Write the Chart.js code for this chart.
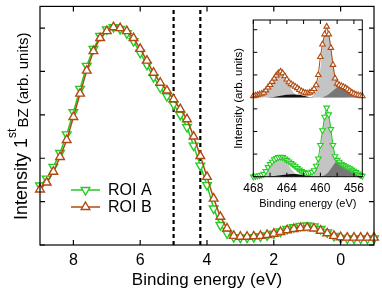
<!DOCTYPE html>
<html>
<head>
<meta charset="utf-8">
<script src="https://cdn.jsdelivr.net/npm/chart.js@4.4.1/dist/chart.umd.min.js"></script>
<style>
    html, body { margin: 0; padding: 0; background: #fff; }
    #wrap { position: relative; width: 382px; height: 296px; }
    #main { position: absolute; left: 0; top: 0; }
    #inset { position: absolute; left: 225px; top: 10px; }
</style>
</head>
<body>
<div id="wrap">
    <canvas id="main" width="382" height="296"></canvas>
    <canvas id="inset" width="147" height="205"></canvas>
</div>
<script>
(function () {
    "use strict";

    // Main spectrum (binding energy, eV)
    const energy = [9.0, 8.8, 8.6, 8.4, 8.2, 8.0, 7.8, 7.6, 7.4, 7.2, 7.0, 6.8, 6.6, 6.4, 6.2, 6.0, 5.8, 5.6, 5.4, 5.2,
        5.0, 4.8, 4.6, 4.4, 4.2, 4.0, 3.8, 3.6, 3.4, 3.2, 3.0, 2.8, 2.6, 2.4, 2.2, 2.0, 1.8, 1.6, 1.4, 1.2,
        1.0, 0.8, 0.6, 0.4, 0.2, 0.0, -0.2, -0.4, -0.6, -0.8, -1.0];
    const roiA = [1.37, 1.53, 1.80, 2.12, 2.55, 3.06, 3.60, 4.13, 4.52, 4.82, 4.97, 5.02, 4.98, 4.88, 4.70, 4.43, 4.15, 3.87, 3.63, 3.43,
        3.24, 3.00, 2.72, 2.29, 1.83, 1.38, 0.84, 0.46, 0.27, 0.18, 0.17, 0.17, 0.18, 0.20, 0.22, 0.26, 0.31, 0.37, 0.41, 0.44,
        0.45, 0.43, 0.37, 0.29, 0.21, 0.16, 0.15, 0.15, 0.15, 0.15, 0.15];
    const roiB = [1.28, 1.44, 1.69, 2.03, 2.42, 2.95, 3.49, 4.02, 4.47, 4.77, 4.93, 5.02, 5.00, 4.93, 4.77, 4.52, 4.25, 3.97, 3.74, 3.56,
        3.36, 3.13, 2.90, 2.50, 2.05, 1.57, 1.07, 0.65, 0.38, 0.21, 0.19, 0.19, 0.20, 0.21, 0.23, 0.26, 0.30, 0.34, 0.37, 0.39,
        0.40, 0.38, 0.33, 0.27, 0.21, 0.18, 0.17, 0.17, 0.17, 0.17, 0.17];
    const markerLines = [5.0, 4.2];
    const xTicks = [8, 6, 4, 2, 0];
    const yTicks = [0, 1, 2, 3, 4, 5];

    // Inset: Ti 2p region
    const insetEnergy = [468, 467.75, 467.5, 467.25, 467, 466.75, 466.5, 466.25, 466, 465.75, 465.5, 465.25, 465, 464.75,
        464.5, 464.25, 464, 463.75, 463.5, 463.25, 463, 462.75, 462.5, 462.25, 462, 461.75, 461.5, 461.25, 461, 460.75,
        460.5, 460.25, 460, 459.75, 459.5, 459.25, 459, 458.75, 458.5, 458.25, 458, 457.75, 457.5, 457.25, 457, 456.75,
        456.5, 456.25, 456, 455.75, 455.5, 455.25, 455];
    const insetA = [0.00, 0.02, 0.04, 0.06, 0.08, 0.12, 0.24, 0.42, 0.56, 0.66, 0.76, 0.82, 0.86, 0.88,
        0.86, 0.80, 0.74, 0.67, 0.60, 0.53, 0.46, 0.38, 0.31, 0.25, 0.20, 0.17, 0.16, 0.17, 0.21, 0.28,
        0.48, 0.80, 1.40, 2.05, 2.65, 3.05, 2.75, 2.10, 1.40, 0.90, 0.74, 0.66, 0.57, 0.51, 0.46, 0.41,
        0.37, 0.31, 0.26, 0.20, 0.13, 0.07, 0.03];
    const insetB = [0.07, 0.09, 0.11, 0.14, 0.17, 0.22, 0.32, 0.45, 0.56, 0.70, 0.84, 0.98, 1.08, 1.15,
        1.08, 0.95, 0.80, 0.68, 0.60, 0.54, 0.48, 0.42, 0.34, 0.28, 0.23, 0.20, 0.19, 0.22, 0.28, 0.38,
        0.55, 1.00, 1.80, 2.35, 2.80, 3.14, 2.80, 2.20, 1.45, 0.85, 0.62, 0.55, 0.51, 0.47, 0.42, 0.36,
        0.29, 0.22, 0.17, 0.13, 0.10, 0.08, 0.07];

    // Fit components (coarser grid)
    const compEnergy = [468, 467.5, 467, 466.5, 466, 465.5, 465, 464.5, 464, 463.5, 463, 462.5, 462, 461.5,
        461, 460.5, 460, 459.5, 459, 458.5, 458, 457.5, 457, 456.5, 456, 455.5, 455];
    const lightA = [0, 0, 0.03, 0.20, 0.50, 0.75, 0.85, 0.80, 0.60, 0.35, 0.15, 0.05, 0, 0,
        0.05, 0.30, 1.20, 2.55, 2.65, 1.45, 0.50, 0.12, 0.02, 0, 0, 0, 0];
    const darkA = [0, 0, 0, 0, 0, 0, 0, 0, 0, 0, 0, 0, 0, 0,
        0, 0, 0, 0.06, 0.22, 0.48, 0.68, 0.64, 0.48, 0.30, 0.16, 0.07, 0.02];
    const blackA = [0, 0, 0, 0, 0.01, 0.03, 0.05, 0.08, 0.10, 0.12, 0.12, 0.10, 0.07, 0.03,
        0.01, 0, 0, 0, 0, 0, 0, 0, 0, 0, 0, 0, 0];
    const lightB = [0, 0, 0.05, 0.25, 0.60, 0.92, 1.08, 1.00, 0.70, 0.38, 0.15, 0.04, 0, 0,
        0.05, 0.35, 1.30, 2.75, 2.85, 1.60, 0.50, 0.12, 0.02, 0, 0, 0, 0];
    const darkB = [0, 0, 0, 0, 0, 0, 0, 0, 0, 0, 0, 0, 0, 0,
        0, 0, 0, 0.05, 0.15, 0.30, 0.45, 0.50, 0.42, 0.28, 0.15, 0.07, 0.03];
    const blackB = [0, 0, 0, 0, 0.01, 0.03, 0.06, 0.09, 0.12, 0.14, 0.14, 0.12, 0.08, 0.04,
        0.01, 0, 0, 0, 0, 0, 0, 0, 0, 0, 0, 0, 0];
    const insetXLabels = [456, 460, 464, 468];
    const insetXTicks = [456, 458, 460, 462, 464, 466, 468];
    const insetYTicks = [0, 1, 2, 3, 4.5, 5.5, 6.5];
    const panelOffsetB = 3.5;

    const FONT = '"Liberation Sans", Arial, sans-serif';
    const GREEN = "#22cc22";
    const BROWN = "#b04a10";

    const pts = (xs, ys, off) => xs.map((x, i) => ({ x: x, y: ys[i] + (off || 0) }));

    // box + inward ticks
    const frame = {
        id: "frame",
        afterDatasetsDraw(chart, args, o) {
            const { ctx, chartArea: a } = chart;
            const sx = chart.scales.x, sy = chart.scales.y;
            ctx.save();
            ctx.strokeStyle = "#000";
            ctx.lineWidth = o.width;
            ctx.beginPath();
            o.xTicks.forEach((v) => {
                const p = sx.getPixelForValue(v);
                ctx.moveTo(p, a.bottom); ctx.lineTo(p, a.bottom - o.len);
                ctx.moveTo(p, a.top); ctx.lineTo(p, a.top + o.len);
            });
            o.yTicks.forEach((v) => {
                const p = sy.getPixelForValue(v);
                ctx.moveTo(a.left, p); ctx.lineTo(a.left + o.len, p);
                ctx.moveTo(a.right, p); ctx.lineTo(a.right - o.len, p);
            });
            ctx.stroke();
            ctx.strokeRect(a.left, a.top, a.right - a.left, a.bottom - a.top);
            ctx.restore();
        },
    };

    // y title with superscript
    const yTitle = {
        id: "yTitle",
        afterDraw(chart) {
            const ctx = chart.ctx;
            ctx.save();
            ctx.fillStyle = "#000";
            ctx.translate(0, 220);
            ctx.rotate(-Math.PI / 2);
            ctx.textBaseline = "alphabetic";
            ctx.font = "18px " + FONT;
            ctx.fillText("Intensity 1", 0, 27);
            let w = ctx.measureText("Intensity 1").width;
            ctx.font = "12px " + FONT;
            ctx.fillText("st", w, 16);
            w += ctx.measureText("st").width + 1;
            ctx.font = "15px " + FONT;
            ctx.fillText("BZ (arb. units)", w, 28);
            ctx.restore();
        },
    };

    // legend with line through marker
    const legendBox = {
        id: "legendBox",
        afterDraw(chart) {
            const ctx = chart.ctx;
            const rows = chart.data.datasets.filter((d) => d.label).sort((p, q) => (p.label < q.label ? -1 : 1));
            rows.forEach((d, i) => {
                const y = 190 + i * 17;
                ctx.save();
                ctx.strokeStyle = d.borderColor;
                ctx.lineWidth = d.borderWidth;
                ctx.beginPath();
                ctx.moveTo(71, y);
                ctx.lineTo(100, y);
                ctx.stroke();
                ctx.fillStyle = "#fff";
                ctx.lineWidth = d.pointBorderWidth;
                Chart.helpers.drawPoint(ctx, {
                    pointStyle: "triangle",
                    radius: d.pointRadius,
                    rotation: d.pointRotation || 0,
                    borderWidth: d.pointBorderWidth,
                }, 85.5, y);
                ctx.fillStyle = "#000";
                ctx.font = "16px " + FONT;
                ctx.textBaseline = "middle";
                ctx.fillText(d.label, 108, y + 1);
                ctx.restore();
            });
        },
    };

    // Main chart
    const mainChart = new Chart(document.getElementById("main").getContext("2d"), {
        type: "line",
        data: {
            datasets: [
                {
                    label: "ROI B",
                    data: pts(energy, roiB),
                    borderColor: BROWN,
                    borderWidth: 1.5,
                    pointStyle: "triangle",
                    pointRadius: 5,
                    pointBorderWidth: 1.4,
                    pointBorderColor: BROWN,
                    pointBackgroundColor: "#fff",
                    clip: false,
                    order: 1,
                },
                {
                    label: "ROI A",
                    data: pts(energy, roiA),
                    borderColor: GREEN,
                    borderWidth: 1.5,
                    pointStyle: "triangle",
                    pointRotation: 180,
                    pointRadius: 5,
                    pointBorderWidth: 1.4,
                    pointBorderColor: GREEN,
                    pointBackgroundColor: "#fff",
                    clip: false,
                    order: 2,
                },
                ...markerLines.map((e) => ({
                    data: [{ x: e, y: 0 }, { x: e, y: 5.5 }],
                    borderColor: "#000",
                    borderWidth: 2.2,
                    borderDash: [4, 3],
                    pointRadius: 0,
                    order: 3,
                })),
            ],
        },
        options: {
            responsive: false,
            animation: false,
            devicePixelRatio: 1,
            layout: { padding: { left: 0, right: 8, top: 6, bottom: 0 } },
            plugins: {
                legend: { display: false },
                tooltip: { enabled: false },
                frame: { xTicks: xTicks, yTicks: yTicks, len: 5, width: 1.2 },
            },
            scales: {
                x: {
                    type: "linear",
                    min: -1,
                    max: 9,
                    reverse: true,
                    afterBuildTicks: (s) => { s.ticks = xTicks.map((v) => ({ value: v })); },
                    afterFit: (s) => { s.height = 51; },
                    grid: { display: false, drawTicks: false },
                    border: { display: false },
                    ticks: { color: "#000", font: { family: FONT, size: 16 }, padding: 6, maxRotation: 0, autoSkip: false },
                    title: {
                        display: true,
                        text: "Binding energy (eV)",
                        color: "#000",
                        font: { family: FONT, size: 17 },
                        padding: { top: 0, bottom: 5 },
                    },
                },
                y: {
                    type: "linear",
                    min: 0,
                    max: 5.5,
                    ticks: { display: false },
                    grid: { display: false, drawTicks: false },
                    border: { display: false },
                    afterFit: (s) => { s.width = 40; },
                },
            },
        },
        plugins: [frame, yTitle, legendBox],
    });

    // Inset chart
    const comp = (ys, off, color, order) => ({
        data: pts(compEnergy, ys, off),
        borderWidth: 0,
        borderColor: "rgba(0,0,0,0)",
        backgroundColor: color,
        fill: { value: off },
        pointRadius: 0,
        cubicInterpolationMode: "monotone",
        order: order,
    });
    const spectrum = (ys, off, color, rot, order) => ({
        data: pts(insetEnergy, ys, off),
        borderColor: color,
        borderWidth: 1,
        pointStyle: "triangle",
        pointRotation: rot,
        pointRadius: 3.2,
        pointBorderWidth: 1.1,
        pointBorderColor: color,
        pointBackgroundColor: "#fff",
        clip: false,
        order: order,
    });

    const insetChart = new Chart(document.getElementById("inset").getContext("2d"), {
        type: "line",
        data: {
            datasets: [
                spectrum(insetB, panelOffsetB, BROWN, 0, 1),
                spectrum(insetA, 0, GREEN, 180, 2),
                comp(blackB, panelOffsetB, "#111", 3),
                comp(blackA, 0, "#111", 3),
                comp(darkB, panelOffsetB, "#777", 4),
                comp(darkA, 0, "#777", 4),
                comp(lightB, panelOffsetB, "#c4c4c4", 5),
                comp(lightA, 0, "#c4c4c4", 5),
            ],
        },
        options: {
            responsive: false,
            animation: false,
            devicePixelRatio: 1,
            layout: { padding: { left: 0, right: 9.7, top: 10, bottom: 0 } },
            plugins: {
                legend: { display: false },
                tooltip: { enabled: false },
                frame: { xTicks: insetXTicks, yTicks: insetYTicks, len: 4, width: 1 },
            },
            scales: {
                x: {
                    type: "linear",
                    min: 455,
                    max: 468,
                    reverse: true,
                    afterBuildTicks: (s) => { s.ticks = insetXLabels.map((v) => ({ value: v })); },
                    afterFit: (s) => { s.height = 38.3; },
                    grid: { display: false, drawTicks: false },
                    border: { display: false },
                    ticks: { color: "#000", font: { family: FONT, size: 12 }, padding: 5, maxRotation: 0, autoSkip: false },
                    title: {
                        display: true,
                        text: "Binding energy (eV)",
                        color: "#000",
                        font: { family: FONT, size: 11 },
                        padding: { top: 0, bottom: 4 },
                    },
                },
                y: {
                    type: "linear",
                    min: 0,
                    max: 6.93,
                    ticks: { display: false },
                    grid: { display: false, drawTicks: false },
                    border: { display: false },
                    afterFit: (s) => { s.width = 28.3; },
                    title: {
                        display: true,
                        text: "Intensity (arb. units)",
                        color: "#000",
                        font: { family: FONT, size: 11.5 },
                        padding: { top: 7, bottom: 0 },
                    },
                },
            },
        },
        plugins: [frame],
    });
})();
</script>
</body>
</html>
